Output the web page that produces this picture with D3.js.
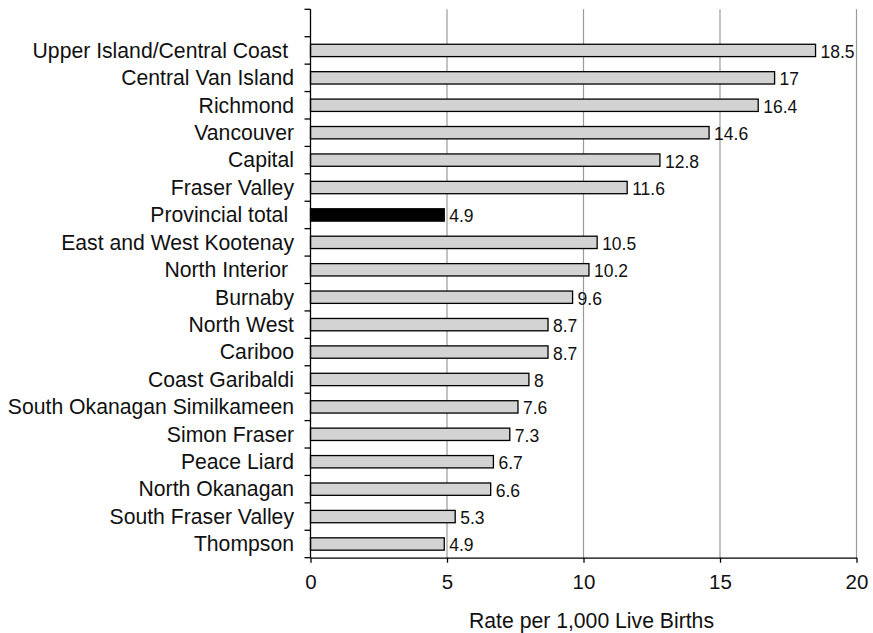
<!DOCTYPE html>
<html>
<head>
<meta charset="utf-8">
<script src="https://cdn.jsdelivr.net/npm/d3@7"></script>
<style>
  html, body { margin: 0; padding: 0; background: #ffffff; }
  svg { display: block; font-family: "Liberation Sans", Arial, Helvetica, sans-serif; }
</style>
</head>
<body>
<svg id="chart" width="873" height="633"></svg>
<script>
// Health service delivery areas (top to bottom) and their rates per 1,000 live births
const categories = [
  "Upper Island/Central Coast ",
  "Central Van Island",
  "Richmond",
  "Vancouver",
  "Capital",
  "Fraser Valley",
  "Provincial total ",
  "East and West Kootenay",
  "North Interior ",
  "Burnaby",
  "North West",
  "Cariboo",
  "Coast Garibaldi",
  "South Okanagan Similkameen",
  "Simon Fraser",
  "Peace Liard",
  "North Okanagan",
  "South Fraser Valley",
  "Thompson"
];
const values = [18.5, 17, 16.4, 14.6, 12.8, 11.6, 4.9, 10.5, 10.2, 9.6, 8.7, 8.7, 8, 7.6, 7.3, 6.7, 6.6, 5.3, 4.9];
const highlighted = ["Provincial total "];
const xTicks = [0, 5, 10, 15, 20];
const xTitle = "Rate per 1,000 Live Births";

const svg = d3.select("#chart");

const plotLeft = 310.5, plotRight = 856.5, plotTop = 9.3, plotBottom = 557.7;
// one empty slot above the first category
const step = (plotBottom - plotTop) / (categories.length + 1);

const x = d3.scaleLinear().domain([0, 20]).range([plotLeft, plotRight]);
const y = d3.scaleBand()
  .domain(categories)
  .range([plotTop + step, plotBottom])
  .paddingInner(0.55)
  .paddingOuter(0.275);

// vertical gridlines
svg.append("g")
  .selectAll("line")
  .data(xTicks.filter(t => t > 0))
  .join("line")
  .attr("x1", d => x(d)).attr("x2", d => x(d))
  .attr("y1", plotTop).attr("y2", plotBottom)
  .attr("stroke", "#9a9a9a")
  .attr("stroke-width", 1.2);

// bars
svg.append("g")
  .selectAll("rect")
  .data(categories)
  .join("rect")
  .attr("x", x(0))
  .attr("y", d => y(d))
  .attr("width", (d, i) => x(values[i]) - x(0))
  .attr("height", y.bandwidth())
  .attr("fill", d => highlighted.includes(d) ? "#000000" : "#d3d3d3")
  .attr("stroke", "#000000")
  .attr("stroke-width", 1.3);

// value labels
svg.append("g")
  .selectAll("text")
  .data(categories)
  .join("text")
  .attr("x", (d, i) => x(values[i]) + 5)
  .attr("y", d => y(d) + y.bandwidth() / 2 + 7.5)
  .attr("font-size", 17.5)
  .attr("fill", "#111")
  .text((d, i) => values[i]);

// category labels
svg.append("g")
  .selectAll("text")
  .data(categories)
  .join("text")
  .attr("x", 294)
  .attr("y", d => y(d) + y.bandwidth() / 2 + 7.3)
  .attr("text-anchor", "end")
  .style("white-space", "pre")
  .attr("font-size", 21.2)
  .attr("fill", "#111")
  .text(d => d);

// y axis line and ticks at category boundaries
const yAxis = svg.append("g").attr("stroke", "#000").attr("stroke-width", 1.3);
yAxis.append("line")
  .attr("x1", plotLeft).attr("x2", plotLeft)
  .attr("y1", plotTop).attr("y2", plotBottom);
yAxis.selectAll("line.tick")
  .data(d3.range(categories.length + 2))
  .join("line")
  .attr("class", "tick")
  .attr("x1", plotLeft - 6).attr("x2", plotLeft)
  .attr("y1", i => plotTop + i * step).attr("y2", i => plotTop + i * step);

// x axis
const xAxis = d3.axisBottom(x)
  .tickValues(xTicks)
  .tickSize(5)
  .tickPadding(12)
  .tickSizeOuter(0);
const gx = svg.append("g")
  .attr("transform", `translate(0,${plotBottom})`)
  .call(xAxis);
gx.select(".domain").attr("stroke", "#000").attr("stroke-width", 1.3);
gx.selectAll(".tick line").attr("stroke", "#000").attr("stroke-width", 1.3);
gx.selectAll(".tick text")
  .attr("font-size", 20.5)
  .attr("font-family", "Liberation Sans, Arial, sans-serif")
  .attr("fill", "#111");

// x axis title
svg.append("text")
  .attr("x", 591.5)
  .attr("y", 628)
  .attr("text-anchor", "middle")
  .attr("font-size", 21.2)
  .attr("fill", "#111")
  .text(xTitle);
</script>
</body>
</html>
